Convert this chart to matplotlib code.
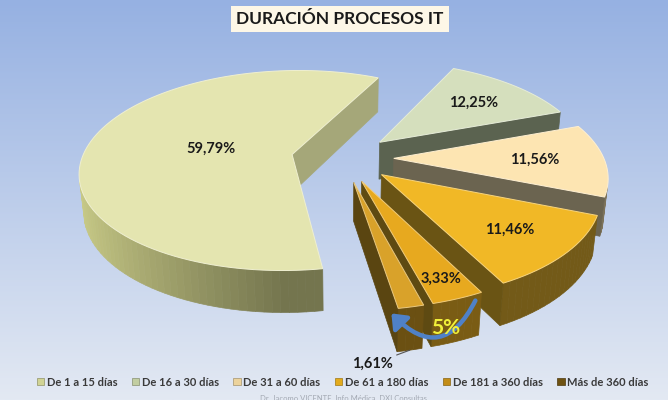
"""
Gráfico: Duración procesos IT (tarta 3D con porciones separadas)
Guarda: out.png
"""

import numpy as np
import matplotlib
matplotlib.use('Agg')
import matplotlib.pyplot as plt
from matplotlib.patches import Polygon, Rectangle, FancyArrowPatch
from matplotlib.colors import to_rgb

plt.rcParams['font.family'] = ['Lato', 'DejaVu Sans']

# ── Datos ──
categorias = ['De 1 a 15 días', 'De 16 a 30 días', 'De 31 a 60 días',
              'De 61 a 180 días', 'De 181 a 360 días', 'Más de 360 días']
porcentajes = [59.79, 12.25, 11.56, 11.46, 3.33, 1.61]
titulo = 'DURACIÓN PROCESOS IT'
pie_texto = 'Dr. Jacomo VICENTE, Info Médica, DXI Consultas'

# ── Colores ──
col_tapa  = ['#e4e5b0', '#d5dfbd', '#fde5b2', '#f1b826', '#e7a91f', '#d9a22a']
col_lado  = ['#74754e', '#646b57', '#7d735a', '#735a18', '#7a5c14', '#6b5012']
col_corte = ['#a5a779', '#5b6350', '#6b6450', '#6a5414', '#5e4a12', '#5a4511']
col_ley   = ['#d0d394', '#c2cea2', '#ecd39c', '#e3ab1c', '#c38d17', '#6e5212']

# ── Geometría 3D (radio = 1) ──
INICIO = -80.7          # ángulo de la primera porción, sentido horario
SEP = 0.244             # separación de porciones
ALTO = 0.206            # grosor de la tarta
ELEV = np.radians(28)
S, C = np.sin(ELEV), np.cos(ELEV)
DIST = 5.5
F = 1155.0
X0, Y0 = 342.5, 158.0
CAM = np.array([0.0, -DIST * C, DIST * S])
R_ETIQ = [0.40, 0.68, 0.67, 0.72, 0.85]


def proj(u, v, h):
    u, v, h = np.asarray(u, float), np.asarray(v, float), np.asarray(h, float)
    yc = v * S + h * C
    zc = DIST + v * C - h * S
    return X0 + F * u / zc, Y0 - F * yc / zc


def visible(p, n):
    return np.dot(CAM - np.asarray(p), np.asarray(n)) > 0


def sombra(color, f):
    return tuple(np.clip(np.array(to_rgb(color)) * f, 0, 1))


fig = plt.figure(figsize=(6.68, 4.0), dpi=100)
ax = fig.add_axes([0, 0, 1, 1])
ax.set_xlim(0, 668)
ax.set_ylim(400, 0)
ax.axis('off')

# fondo degradado
c_arr, c_ab = np.array(to_rgb('#96b1e2')), np.array(to_rgb('#e3e9f3'))
t = np.linspace(0, 1, 256)[:, None, None]
grad = c_arr * (1 - t) + c_ab * t
ax.imshow(grad, extent=[0, 668, 400, 0], aspect='auto', zorder=0)

# ── Porciones ──
porciones = []
ang = INICIO
for i, val in enumerate(porcentajes):
    span = 360 * val / 100
    t1, t2 = ang, ang - span
    ang = t2
    mid = np.radians((t1 + t2) / 2)
    ou, ov = SEP * np.cos(mid), SEP * np.sin(mid)
    prof = ov + 0.5 * np.sin(mid)
    porciones.append(dict(i=i, t1=t1, t2=t2, mid=mid, ou=ou, ov=ov, prof=prof))

z = 2
for p in sorted(porciones, key=lambda d: -d['prof']):
    i, ou, ov = p['i'], p['ou'], p['ov']
    n = max(4, int(abs(p['t1'] - p['t2']) / 2) + 2)
    angs = np.radians(np.linspace(p['t1'], p['t2'], n))
    au, av = ou + np.cos(angs), ov + np.sin(angs)
    xt, yt = proj(au, av, 0)
    xb, yb = proj(au, av, -ALTO)

    # lado curvo
    for k in range(n - 1):
        a = (angs[k] + angs[k + 1]) / 2
        pt = (ou + np.cos(a), ov + np.sin(a), -ALTO / 2)
        if not visible(pt, (np.cos(a), np.sin(a), 0)):
            continue
        f = 1 + 0.75 * max(0.0, -np.cos(a))
        col = sombra(col_lado[i], f)
        quad = [(xt[k], yt[k]), (xt[k + 1], yt[k + 1]),
                (xb[k + 1], yb[k + 1]), (xb[k], yb[k])]
        ax.add_patch(Polygon(quad, closed=True, facecolor=col, edgecolor=col,
                             lw=0.5, zorder=z))
    z += 1

    # caras de corte
    for te, signo in ((p['t1'], 1), (p['t2'], -1)):
        r = np.radians(te)
        nr = r + signo * np.pi / 2
        pt = (ou + 0.5 * np.cos(r), ov + 0.5 * np.sin(r), -ALTO / 2)
        if not visible(pt, (np.cos(nr), np.sin(nr), 0)):
            continue
        eu, ev = ou + np.cos(r), ov + np.sin(r)
        xs, ys = proj([ou, eu, eu, ou], [ov, ev, ev, ov], [0, 0, -ALTO, -ALTO])
        ax.add_patch(Polygon(np.column_stack([xs, ys]), closed=True,
                             facecolor=col_corte[i], edgecolor=col_corte[i],
                             lw=0.5, zorder=z))
    z += 1

    # tapa
    xa, ya = proj(ou, ov, 0)
    tapa = np.column_stack([np.r_[xa, xt], np.r_[ya, yt]])
    borde = tuple(np.array(to_rgb(col_tapa[i])) * 0.6 + 0.4)
    ax.add_patch(Polygon(tapa, closed=True, facecolor=col_tapa[i],
                         edgecolor=borde, lw=0.7, zorder=z))
    z += 1

zt = z + 5

# ── Etiquetas ──
def fmt(v):
    return f'{v:.2f}'.replace('.', ',') + '%'

for p in porciones[:5]:
    f = R_ETIQ[p['i']]
    x, y = proj(p['ou'] + f * np.cos(p['mid']), p['ov'] + f * np.sin(p['mid']), 0)
    ax.text(x, y, fmt(porcentajes[p['i']]), ha='center', va='center',
            fontsize=10.5, fontweight='bold', color='#1a1a1a', zorder=zt)

ul = porciones[5]
xy = proj(ul['ou'] + np.cos(ul['mid']), ul['ov'] + np.sin(ul['mid']), -ALTO)
ax.annotate(fmt(porcentajes[5]), xy=(float(xy[0]), float(xy[1])), xycoords='data',
            xytext=(-27, -10), textcoords='offset points', ha='center', va='center',
            fontsize=10.5, fontweight='bold', color='#1a1a1a', zorder=zt,
            arrowprops=dict(arrowstyle='-', color='#555555', lw=0.8,
                            shrinkA=1, shrinkB=0))

# flecha y suma de las dos últimas porciones
p4, p5 = porciones[4], porciones[5]
ra = np.radians(p4['t1'] - 1.5)
rb = np.radians(p5['t2'] - 1.5)
pa = proj(p4['ou'] + np.cos(ra), p4['ov'] + np.sin(ra), -0.15 * ALTO)
pb = proj(p5['ou'] + np.cos(rb), p5['ov'] + np.sin(rb), -0.1 * ALTO)
ax.add_patch(FancyArrowPatch((float(pa[0]), float(pa[1])), (float(pb[0]), float(pb[1])),
                             connectionstyle='arc3,rad=-0.7',
                             arrowstyle='-|>,head_length=5,head_width=4',
                             mutation_scale=1.6, lw=3.2, color='#4f81c7',
                             shrinkA=0, shrinkB=0, zorder=zt))
suma = porcentajes[4] + porcentajes[5]
xs5, ys5 = proj(p4['ou'] + np.cos(p4['mid']), p4['ov'] + np.sin(p4['mid']), -0.55 * ALTO)
ax.annotate(f'{suma:.0f}%', xy=(float(xs5), float(ys5)), xytext=(-8, -4),
            textcoords='offset points', ha='center', va='center', fontsize=15,
            fontweight='bold', color='#f0f03a', zorder=zt + 1)

# ── Título ──
ax.text(340, 19, titulo, ha='center', va='center', fontsize=12.5,
        fontweight='bold', color='#1a1a1a', zorder=zt,
        bbox=dict(boxstyle='square,pad=0.3', facecolor='#fdf7e7', edgecolor='none'))

# ── Leyenda ──
handles = [Rectangle((0, 0), 1, 1, facecolor=c, edgecolor=sombra(c, 0.7), lw=0.5)
           for c in col_ley]
fig.legend(handles, categorias, loc='center', bbox_to_anchor=(0.513, 0.045),
           ncol=6, frameon=False, handlelength=0.65, handleheight=0.65,
           handletextpad=0.25, columnspacing=1.3,
           prop=dict(family=['Lato', 'DejaVu Sans'], size=8, weight='bold'),
           labelcolor='#3a3a3a')

ax.text(343, 398, pie_texto, ha='center', va='center', fontsize=5.5,
        color='#a3a9b3', zorder=zt)

fig.savefig('out.png', dpi=100)
